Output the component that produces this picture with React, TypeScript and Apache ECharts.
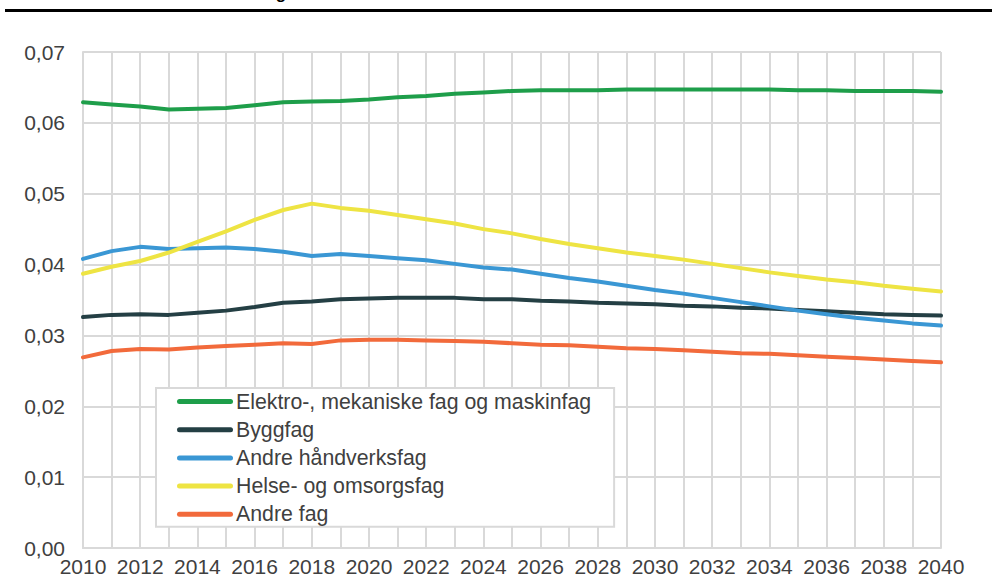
import React, { useEffect, useRef } from "react";
import * as echarts from "echarts";

const years = Array.from({ length: 31 }, (_, i) => String(2010 + i));

const seriesNames = [
  "Elektro-, mekaniske fag og maskinfag",
  "Byggfag",
  "Andre håndverksfag",
  "Helse- og omsorgsfag",
  "Andre fag",
];

const seriesColors = ["#1e9e4a", "#243f44", "#3a97d4", "#eee443", "#f26a3b"];

const elektro = [
  0.0629, 0.0626, 0.0623, 0.0619, 0.062, 0.0621, 0.0625, 0.0629, 0.063, 0.0631,
  0.0633, 0.0636, 0.0638, 0.0641, 0.0643, 0.0645, 0.0646, 0.0646, 0.0646, 0.0647,
  0.0647, 0.0647, 0.0647, 0.0647, 0.0647, 0.0646, 0.0646, 0.0645, 0.0645, 0.0645,
  0.0644,
];

const bygg = [
  0.0326, 0.0329, 0.033, 0.0329, 0.0332, 0.0335, 0.034, 0.0346, 0.0348, 0.0351,
  0.0352, 0.0353, 0.0353, 0.0353, 0.0351, 0.0351, 0.0349, 0.0348, 0.0346, 0.0345,
  0.0344, 0.0342, 0.0341, 0.0339, 0.0338, 0.0336, 0.0334, 0.0332, 0.033, 0.0329,
  0.0328,
];

const haandverk = [
  0.0408, 0.0419, 0.0425, 0.0422, 0.0423, 0.0424, 0.0422, 0.0418, 0.0412, 0.0415,
  0.0412, 0.0409, 0.0406, 0.0401, 0.0396, 0.0393, 0.0387, 0.0381, 0.0376, 0.037,
  0.0364, 0.0359, 0.0353, 0.0347, 0.0341, 0.0335, 0.033, 0.0325, 0.0321, 0.0317,
  0.0314,
];

const helse = [
  0.0387, 0.0397, 0.0405, 0.0417, 0.0432, 0.0447, 0.0463, 0.0477, 0.0486, 0.048,
  0.0476, 0.047, 0.0464, 0.0458, 0.045, 0.0444, 0.0436, 0.0429, 0.0423, 0.0417,
  0.0412, 0.0407, 0.0401, 0.0395, 0.0389, 0.0384, 0.0379, 0.0375, 0.037, 0.0366,
  0.0362,
];

const andre = [
  0.0269, 0.0278, 0.0281, 0.028, 0.0283, 0.0285, 0.0287, 0.0289, 0.0288, 0.0293,
  0.0294, 0.0294, 0.0293, 0.0292, 0.0291, 0.0289, 0.0287, 0.0286, 0.0284, 0.0282,
  0.0281, 0.0279, 0.0277, 0.0275, 0.0274, 0.0272, 0.027, 0.0268, 0.0266, 0.0264,
  0.0262,
];

const seriesData = [elektro, bygg, haandverk, helse, andre];

const titleFragment = "g";

export default function App() {
  const ref = useRef<HTMLDivElement>(null);

  useEffect(() => {
    if (!ref.current) return;
    const chart = echarts.init(ref.current, undefined, { renderer: "svg" });
    const font = "'Liberation Sans', Arial, sans-serif";
    const grey = "#d9d9d9";
    const textColor = "#404040";

    chart.setOption({
      animation: false,
      backgroundColor: "#ffffff",
      textStyle: { fontFamily: font },
      grid: { left: 83, right: 51, top: 52, bottom: 38, containLabel: false },
      legend: {
        orient: "vertical",
        left: 156,
        top: 388,
        data: seriesNames,
        backgroundColor: "#ffffff",
        borderColor: grey,
        borderWidth: 2,
        borderRadius: 0,
        padding: [3, 23, 2, 21],
        itemGap: 7.2,
        itemWidth: 56,
        itemHeight: 5,
        icon: "path://M2.5,0 H53.5 A2.5,2.5 0 0 1 53.5,5 H2.5 A2.5,2.5 0 0 1 2.5,0 Z",
        textStyle: { fontSize: 21.3, color: textColor, fontFamily: font, padding: [0, 0, 0, -2] },
      },
      xAxis: {
        type: "category",
        data: years,
        boundaryGap: false,
        axisLine: { show: true, lineStyle: { color: grey, width: 2 } },
        axisTick: { show: false },
        axisLabel: {
          interval: 1,
          fontSize: 21,
          color: textColor,
          margin: 8,
          fontFamily: font,
        },
        splitLine: { show: true, interval: 0, lineStyle: { color: grey, width: 2 } },
      },
      yAxis: {
        type: "value",
        min: 0,
        max: 0.07,
        interval: 0.01,
        axisLine: { show: true, lineStyle: { color: grey, width: 2 } },
        axisTick: { show: false },
        axisLabel: {
          fontSize: 21,
          color: textColor,
          margin: 18,
          fontFamily: font,
          formatter: (v: number) => v.toFixed(2).replace(".", ","),
        },
        splitLine: { show: true, lineStyle: { color: grey, width: 2 } },
      },
      series: seriesNames.map((name, i) => ({
        name,
        type: "line",
        data: seriesData[i],
        showSymbol: false,
        symbol: "none",
        smooth: false,
        color: seriesColors[i],
        lineStyle: { width: 4, color: seriesColors[i], cap: "round", join: "round" },
        itemStyle: { color: seriesColors[i] },
      })),
      graphic: [
        {
          type: "line",
          shape: { x1: 5, y1: 10.5, x2: 992, y2: 10.5 },
          style: { stroke: "#000000", lineWidth: 3 },
        },
        {
          type: "text",
          x: 281,
          y: -6.5,
          style: {
            text: titleFragment,
            font: "bold 17px 'Liberation Sans', Arial, sans-serif",
            fill: "#000000",
            align: "center",
            verticalAlign: "middle",
          },
        },
      ],
    });

    return () => chart.dispose();
  }, []);

  return (
    <div
      ref={ref}
      style={{ position: "absolute", left: 0, top: 0, width: 992, height: 586 }}
    />
  );
}
